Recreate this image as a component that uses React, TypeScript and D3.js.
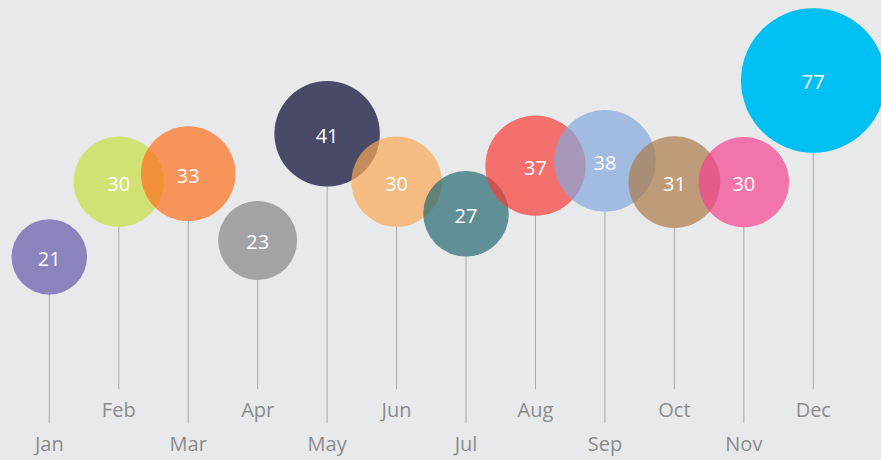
import React from "react";
import * as d3 from "d3";

const months = ["Jan", "Feb", "Mar", "Apr", "May", "Jun", "Jul", "Aug", "Sep", "Oct", "Nov", "Dec"];
const values = [21, 30, 33, 23, 41, 30, 27, 37, 38, 31, 30, 77];
// vertical position of each bubble (chart units)
const levels = [41.6, 60.4, 62.4, 45.7, 72.4, 60.4, 52.4, 64.4, 65.6, 60.3, 60.3, 85.7];
const colors = [
  "#8b84bd", "#d1e174", "#f8935b", "#a1a2a4", "#4a4a69", "#f5bb82",
  "#608f96", "#f3706c", "#a3bbe0", "#be9b7a", "#f174ab", "#00bff2",
];

const W = 881;
const H = 460;
const BG = "#e8e9eb";
const BASE_OPACITY = 0.7;

function fillFor(observed: string) {
  const o = d3.rgb(observed);
  const b = d3.rgb(BG);
  const ch = [
    [o.r, b.r],
    [o.g, b.g],
    [o.b, b.b],
  ];
  let aMin = 0;
  for (const [ov, bv] of ch) {
    if (ov < bv) aMin = Math.max(aMin, (bv - ov) / bv);
    else if (ov > bv) aMin = Math.max(aMin, (ov - bv) / (255 - bv));
  }
  const a = Math.min(1, Math.max(BASE_OPACITY, aMin));
  const pure = ch.map(([ov, bv]) => Math.max(0, Math.min(255, (ov - (1 - a) * bv) / a)));
  return { color: d3.rgb(pure[0], pure[1], pure[2]).formatHex(), opacity: a };
}

export default function App() {
  const x = d3.scalePoint<string>().domain(months).range([49.3, 813.3]);
  const y = d3.scaleLinear().domain([0, 100]).range([423.3, 23.3]);
  const r = d3.scaleSqrt().domain([0, 77]).range([0, 72.3]);
  const lineEnd = (i: number) => (i % 2 === 0 ? 423.3 : 389.3);
  const font = "'Open Sans', 'Noto Sans', sans-serif";

  return (
    <svg
      width={W}
      height={H}
      style={{ position: "absolute", left: 0, top: 0, background: BG, display: "block" }}
    >
      <rect x={0} y={0} width={W} height={H} fill={BG} />
      <g>
        {months.map((m, i) => {
          const cx = x(m)!;
          const cy = y(levels[i]);
          const rr = r(values[i]);
          return (
            <line
              key={"l" + m}
              x1={cx}
              x2={cx}
              y1={cy + rr}
              y2={lineEnd(i)}
              stroke="#a9a9ab"
              strokeWidth={1}
            />
          );
        })}
      </g>
      <g>
        {months.map((m, i) => {
          const f = fillFor(colors[i]);
          return (
            <circle
              key={"c" + m}
              cx={x(m)!}
              cy={y(levels[i])}
              r={r(values[i])}
              fill={f.color}
              fillOpacity={f.opacity}
            />
          );
        })}
      </g>
      <g fontFamily={font} fontSize={20} fill="#ffffff" textAnchor="middle">
        {months.map((m, i) => (
          <text key={"t" + m} x={x(m)!} y={y(levels[i]) + 8.8}>
            {values[i]}
          </text>
        ))}
      </g>
      <g fontFamily={font} fontSize={20} fill="#8c8c8c" textAnchor="middle">
        {months.map((m, i) => (
          <text key={"m" + m} x={x(m)!} y={lineEnd(i) + 27.7}>
            {m}
          </text>
        ))}
      </g>
    </svg>
  );
}
